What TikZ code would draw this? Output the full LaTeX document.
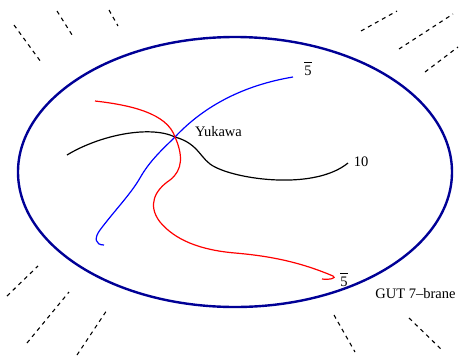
\documentclass[tikz,border=0pt]{standalone}
\usepackage{fontspec}
\setmainfont{Liberation Serif}
\usetikzlibrary{shapes.geometric}
\newcommand{\fivebar}{\makebox[0pt][l]{\raisebox{12pt}{\rule{7.3pt}{0.75pt}}}5}
\begin{document}
\begin{tikzpicture}[x=1pt,y=-1pt,
  lbl/.style={font=\fontsize{14.5}{17}\selectfont, inner sep=0pt},
  brane/.style={draw={rgb,255:red,0;green,0;blue,150}, line width=2.4pt},
  curve/.style={line width=1.2pt},
  dline/.style={line width=1.1pt, dash pattern=on 4pt off 4pt}]
\useasboundingbox (0,0) rectangle (461,357);
\node[brane, ellipse, inner sep=0pt, minimum width=434pt, minimum height=270pt] (gut) at (235,172) {};
% dashed lines
\draw[dline] (14,25) -- (41,62);
\draw[dline] (57,11) -- (74,38);
\draw[dline] (109,10) -- (118,26);
\draw[dline] (361,31) -- (397,11);
\draw[dline] (399,49) -- (453,14);
\draw[dline] (425,72) -- (458,47);
\draw[dline] (7,296) -- (38,266);
\draw[dline] (27,343) -- (69,292);
\draw[dline] (77,355) -- (107,310);
\draw[dline] (334,315) -- (355,352);
\draw[dline] (409,318) -- (442,350);
\coordinate (y) at (175,137);
% black 10
\draw[curve,black] (67,155) .. controls (100,135) and (150,125) .. (y)
  .. controls (200,144) and (200,160) .. (215,167)
  .. controls (240,180) and (315,190) .. (348,163);
% blue 5bar
\draw[curve,blue] (104,245) .. controls (95,245) and (94,238) .. (100,230)
  .. controls (115,210) and (130,195) .. (140,178)
  .. controls (150,160) and (165,147) .. (y)
  .. controls (205,105) and (245,85) .. (293,77);
% red 5bar
\draw[curve,red] (95,101) .. controls (130,105) and (167,113) .. (y)
  .. controls (183,155) and (183,170) .. (170,180)
  .. controls (155,190) and (147,205) .. (160,222)
  .. controls (175,240) and (200,250) .. (235,253)
  .. controls (270,256) and (300,262) .. (333,276)
  .. controls (337,278) and (330,280) .. (322,279);
\node[lbl] (yuk) at (218.5,132) {Yukawa};
\node[lbl] (ten) at (361,162) {10};
\node[lbl, anchor=base] (fa) at (308,75) {\fivebar};
\node[lbl, anchor=base] (fb) at (344,286) {\fivebar};
\node[lbl] (lab) at (415.5,294) {GUT 7--brane};
\end{tikzpicture}
\end{document}
